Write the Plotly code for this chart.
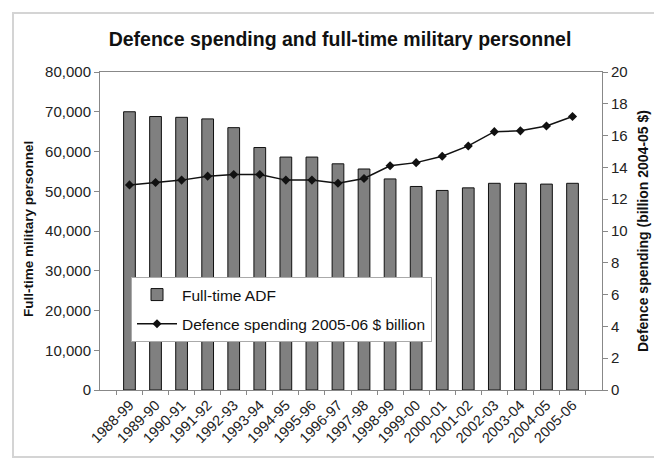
import plotly.graph_objects as go

categories = ["1988-99", "1989-90", "1990-91", "1991-92", "1992-93", "1993-94",
              "1994-95", "1995-96", "1996-97", "1997-98", "1998-99", "1999-00",
              "2000-01", "2001-02", "2002-03", "2003-04", "2004-05", "2005-06"]
personnel = [70000, 68800, 68600, 68200, 66000, 61000, 58600, 58600, 56900,
             55600, 53100, 51200, 50200, 50850, 52000, 52000, 51800, 52000]
spending = [12.9, 13.05, 13.2, 13.45, 13.55, 13.55, 13.2, 13.2, 13.0,
            13.3, 14.1, 14.3, 14.7, 15.35, 16.25, 16.3, 16.6, 17.2]

FONT = "Arial, Liberation Sans, sans-serif"
W, H = 654, 459
L, R, T, B = 100, 52, 72, 69
pw, ph = W - L - R, H - T - B

def px_x(x):
    return (x - L) / pw

def px_y(y):
    return (H - B - y) / ph

fig = go.Figure()
fig.add_trace(go.Bar(
    x=categories, y=personnel, name="Full-time ADF", legendgroup="a",
    marker=dict(color="#808080", line=dict(color="#111111", width=1)),
    width=0.45, yaxis="y",
))
fig.add_trace(go.Scatter(
    x=categories, y=spending, name="Defence spending 2005-06 $ billion",
    legendgroup="b",
    mode="lines+markers", yaxis="y2",
    line=dict(color="#111111", width=1.5),
    marker=dict(symbol="diamond", size=7, color="#111111"),
))

fig.update_layout(
    width=W, height=H,
    margin=dict(l=L, r=R, t=T, b=B, pad=0),
    paper_bgcolor="white", plot_bgcolor="white",
    font=dict(family=FONT, size=15, color="#222222"),
    title=dict(text="<b>Defence spending and full-time military personnel</b>",
               x=340 / W, xanchor="center", y=1 - 39 / H, yanchor="middle",
               font=dict(size=19.5, color="#111111")),
    showlegend=True,
    legend=dict(x=px_x(131), y=px_y(277), xanchor="left", yanchor="top",
                bgcolor="white", bordercolor="#aaaaaa", borderwidth=1,
                font=dict(size=15.5, color="#111111"), itemwidth=40,
                tracegroupgap=6),
    bargap=0.55,
    xaxis=dict(
        type="category", showgrid=False, tickangle=-45,
        showline=True, linecolor="#888888", linewidth=1, mirror=True,
        ticks="outside", ticklen=4, tickcolor="#888888", tickson="boundaries",
        tickfont=dict(size=14.5, color="#222222"),
    ),
    yaxis=dict(
        range=[0, 80000], dtick=10000, tickformat=",", showgrid=False,
        showline=True, linecolor="#888888", linewidth=1,
        ticks="outside", ticklen=5, tickcolor="#888888",
        tickfont=dict(size=15, color="#222222"), zeroline=False,
    ),
    yaxis2=dict(
        range=[0, 20], dtick=2, overlaying="y", side="right", showgrid=False,
        showline=True, linecolor="#888888", linewidth=1,
        ticks="outside", ticklen=5, tickcolor="#888888",
        tickfont=dict(size=15, color="#222222"), zeroline=False,
    ),
    annotations=[
        dict(text="<b>Full-time military personnel</b>", xref="paper", yref="paper",
             x=px_x(28), y=px_y(229), xanchor="center", yanchor="middle",
             textangle=-90, showarrow=False, font=dict(size=13.5, color="#111111")),
        dict(text="<b>Defence spending (billion 2004-05 $)</b>", xref="paper", yref="paper",
             x=px_x(643), y=px_y(231), xanchor="center", yanchor="middle",
             textangle=-90, showarrow=False, font=dict(size=14, color="#111111")),
    ],
    shapes=[
        dict(type="rect", xref="paper", yref="paper",
             x0=px_x(13), x1=px_x(700), y0=px_y(457), y1=px_y(13),
             line=dict(color="#d4d4d4", width=2), layer="below"),
    ],
)

fig.write_html("out.html")
